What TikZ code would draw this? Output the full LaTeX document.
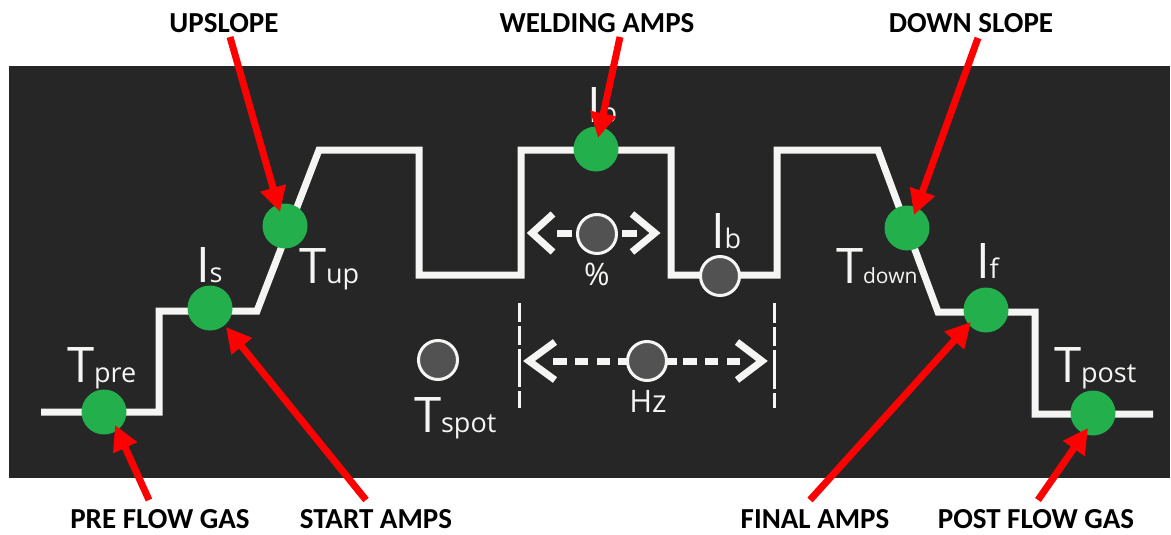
\documentclass[tikz,border=0pt]{standalone}
\usepackage{fontspec}
\setmainfont{Open Sans}
\newfontfamily\calfont{Carlito}
\usetikzlibrary{arrows.meta}
\definecolor{bgc}{HTML}{262626}
\definecolor{dotg}{HTML}{23B04C}
\definecolor{dotgray}{HTML}{515251}
\definecolor{wline}{HTML}{F5F5F3}
\newcommand{\bigsub}[3][27]{{\fontsize{49}{49}\selectfont #2}{\fontsize{#1}{#1}\selectfont #3}}
\begin{document}
\begin{tikzpicture}[x=1pt,y=-1pt,
  greendot/.style={circle,fill=dotg,minimum size=45pt,inner sep=0pt},
  graydot/.style={circle,fill=dotgray,draw=wline,line width=3pt,minimum size=39pt,inner sep=0pt},
  wave/.style={draw=wline,line width=7pt,line join=miter},
  vlbl/.style={text=wline,anchor=base west,inner sep=0pt,outer sep=0pt},
  smlbl/.style={text=wline,anchor=base,inner sep=0pt,outer sep=0pt,font=\fontsize{31}{31}\selectfont},
  callout/.style={font=\calfont\bfseries\fontsize{29}{29}\selectfont,text=black,inner sep=0pt,anchor=base},
  redarrow/.style={draw=red,line width=7pt,-{Triangle[length=25pt,width=25pt]}},
  chev/.style={draw=wline,line width=7pt,line join=miter},
  dashseg/.style={draw=wline,line width=7pt},
  vdash/.style={draw=wline,line width=3pt}]
\useasboundingbox (0,0) rectangle (1171,535);
\fill[white] (0,0) rectangle (1171,535);
\fill[bgc] (9,66) rectangle (1170,478);
% waveform
\draw[wave] (41,412) -- (159,412) -- (159,311) -- (257,311) -- (319,150) -- (419,150)
  -- (419,275) -- (521,275) -- (521,150) -- (671,150) -- (671,275) -- (777,275)
  -- (777,150) -- (878,150) -- (938,312) -- (1035,312) -- (1035,414) -- (1153,414);
% % control
\draw[chev] (553,214) -- (532,233) -- (553,252);
\draw[chev] (632,214) -- (655,233) -- (632,252);
\draw[dashseg] (557,233) -- (572,233);
\draw[dashseg] (622,233) -- (637,233);
% Hz control
\draw[vdash] (519,303) -- (519,322);
\draw[vdash] (519,326) -- (519,345);
\draw[vdash] (519,349) -- (519,387);
\draw[vdash] (519,391) -- (519,408);
\draw[vdash] (774,303) -- (774,323);
\draw[vdash] (774,327) -- (774,346);
\draw[vdash] (774,350) -- (774,389);
\draw[vdash] (774,393) -- (774,408);
\draw[chev] (555,342) -- (529,361) -- (555,380);
\draw[chev] (737,342) -- (762,361) -- (737,380);
\foreach \a/\b in {553/567,575/588,597/610,618/630,666/677,683/697,705/718,727/740}
  \draw[dashseg] (\a,361) -- (\b,361);
% dots
\node[greendot] (tpre) at (104,412) {};
\node[greendot] (is) at (210,308) {};
\node[greendot] (tup) at (285,226) {};
\node[greendot] (ip) at (596,149) {};
\node[greendot] (tdown) at (907,228) {};
\node[greendot] (if) at (986,310) {};
\node[greendot] (tpost) at (1093,413) {};
\node[graydot] (pct) at (597,234) {};
\node[graydot] (ib) at (720,276) {};
\node[graydot] (tspot) at (438,360) {};
\node[graydot] (hz) at (647,361) {};
% white labels
\node[vlbl] (ltpre) at (67,382) {\bigsub{T}{pre}};
\node[vlbl] (lis) at (196,282) {\bigsub{I}{s}};
\node[vlbl] (ltup) at (299,283) {\bigsub{T}{up}};
\node[vlbl] (lip) at (587,122) {\bigsub{I}{p}};
\node[vlbl] (lib) at (711,248) {\bigsub{I}{b}};
\node[vlbl] (ltspot) at (414,432) {\bigsub{T}{spot}};
\node[vlbl] (ltdown) at (836,283) {\bigsub[21]{T}{down}};
\node[vlbl] (lif) at (976,278) {\bigsub{I}{f}};
\node[vlbl] (ltpost) at (1054,382) {\bigsub{T}{post}};
\node[smlbl] (lpct) at (597,285) {\%};
\node[smlbl] (lhz) at (648,412) {Hz};
% callouts
\node[callout] (cup) at (224,33) {UPSLOPE};
\node[callout] (cweld) at (597,33) {WELDING AMPS};
\node[callout] (cdown) at (971,33) {DOWN SLOPE};
\node[callout] (cpre) at (160,528) {PRE FLOW GAS};
\node[callout] (cstart) at (376,528) {START AMPS};
\node[callout] (cfinal) at (815,528) {FINAL AMPS};
\node[callout] (cpost) at (1036,528) {POST FLOW GAS};
% arrow ends
\coordinate (aup) at (230,37);
\coordinate (aweld) at (620,37);
\coordinate (adown) at (978,38);
\coordinate (apre) at (149,500);
\coordinate (astart) at (366,500);
\coordinate (afinal) at (810,500);
\coordinate (apost) at (1038,500);
\coordinate (tipup) at (280,212);
\coordinate (tipweld) at (598,138);
\coordinate (tipdown) at (914,215);
\coordinate (tippre) at (115,425);
\coordinate (tipstart) at (226,327);
\coordinate (tipfinal) at (971,322);
\coordinate (tippost) at (1088,428);
\draw[redarrow] (aup) -- (tipup);
\draw[redarrow] (aweld) -- (tipweld);
\draw[redarrow] (adown) -- (tipdown);
\draw[redarrow] (apre) -- (tippre);
\draw[redarrow] (astart) -- (tipstart);
\draw[redarrow] (afinal) -- (tipfinal);
\draw[redarrow] (apost) -- (tippost);
\end{tikzpicture}
\end{document}
